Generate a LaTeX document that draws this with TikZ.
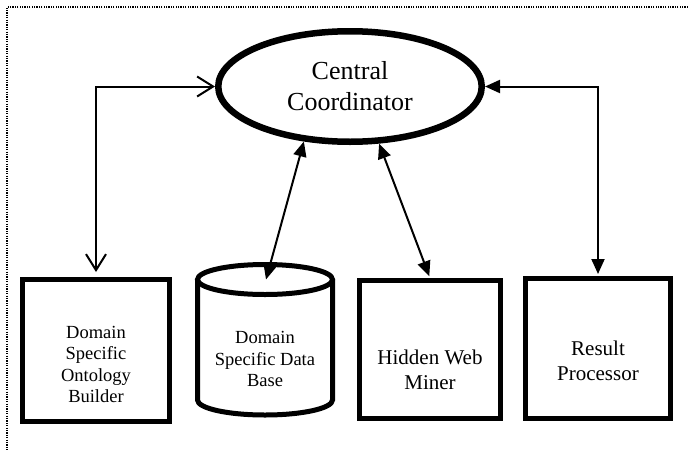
\documentclass[tikz,border=0pt]{standalone}
\usepackage{fontspec}
\setmainfont{Liberation Serif}
\usetikzlibrary{arrows.meta,shapes.geometric}
\begin{document}
\begin{tikzpicture}[x=1pt,y=-1pt,
 box/.style={draw,line width=5pt,rectangle,inner sep=0pt},
 lbl/.style={align=center,inner sep=0pt},
 smalltxt/.style={font=\fontsize{18.5}{21.5}\selectfont},
 bigtxt/.style={font=\fontsize{21}{25}\selectfont},
 conn/.style={line width=2pt},
 openboth/.style={{Straight Barb[length=16pt,width=20pt,line width=2pt]}-{Straight Barb[length=16pt,width=20pt,line width=2pt]}},
 fillboth/.style={{Triangle[length=15pt,width=13pt]}-{Triangle[length=15pt,width=13pt]}}
]
\useasboundingbox (0,0) rectangle (688,450);
\draw[line width=1.3pt, dash pattern=on 1.3pt off 1.1pt] (688,7) -- (7,7) -- (7,450);

% central coordinator
\node[draw, ellipse, line width=6.5pt, minimum width=263.5pt, minimum height=110.5pt,
      inner sep=0pt, align=center, font=\fontsize{26}{31}\selectfont] (cc) at (350,86.5) {Central\\Coordinator};

% ontology builder
\node[box, minimum width=147pt, minimum height=142pt] (b1) at (96,350.5) {};
\node[lbl, smalltxt] (b1t) at (96,364.5) {Domain\\Specific\\Ontology\\Builder};

% data base cylinder
\draw[line width=5pt] (265,279.5) ellipse [x radius=67.5pt, y radius=15pt];
\draw[line width=5pt] (197.5,279.5) -- (197.5,400)
   arc[start angle=180, end angle=360, x radius=67.5pt, y radius=15pt] -- (332.5,279.5);
\coordinate (dbtop) at (266,279.5);
\node[lbl, smalltxt] (dbt) at (265,359) {Domain\\Specific Data\\Base};

% hidden web miner
\node[box, minimum width=141pt, minimum height=138pt] (hw) at (430,349.5) {};
\node[lbl, bigtxt] (hwt) at (430,369.5) {Hidden Web\\Miner};

% result processor
\node[box, minimum width=145pt, minimum height=140pt] (rp) at (598,348.5) {};
\node[lbl, bigtxt] (rpt) at (598,360.5) {Result\\Processor};

% connectors
\draw[conn, openboth, shorten >=5pt] (cc.west) -| (b1.north);
\draw[conn, fillboth, shorten >=2pt] (cc.east) -| (rp.north);
\draw[conn, fillboth] (cc.230) -- (dbtop);
\draw[conn, fillboth, shorten >=2pt] (cc.297) -- (hw.north);
\end{tikzpicture}
\end{document}
